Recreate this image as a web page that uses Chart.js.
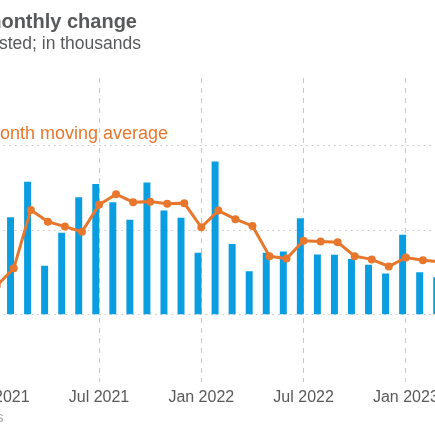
<!DOCTYPE html>
<html>
<head>
<meta charset="utf-8">
<script src="https://cdn.jsdelivr.net/npm/chart.js@4"></script>
<style>
  html, body { margin: 0; padding: 0; background: #fff; }
  #wrap { position: relative; width: 435px; height: 435px; overflow: hidden; font-family: "Liberation Sans", Arial, sans-serif; }
  #wrap canvas { position: absolute; left: -80px; top: 0; }
  .txt { position: absolute; white-space: nowrap; }
  #title { right: 298px; top: 11.4px; font-size: 20px; line-height: 20px; font-weight: bold; color: #58595b; }
  #subtitle { right: 294px; top: 35.4px; font-size: 17.5px; line-height: 17.5px; color: #58595b; }
  #legend { right: 267px; top: 123.8px; font-size: 18px; line-height: 18px; color: #e8772e; }
  #source { right: 431.5px; top: 409.7px; font-size: 14px; line-height: 14px; color: #a7a9ac; }
</style>
</head>
<body>
<div id="wrap">
  <canvas id="myChart" width="545" height="435"></canvas>
  <div class="txt" id="title">Nonfarm payrolls, monthly change</div>
  <div class="txt" id="subtitle">Seasonally adjusted; in thousands</div>
  <div class="txt" id="legend">3-month moving average</div>
  <div class="txt" id="source">Source: Bureau of Labor Statistics</div>
</div>
<script>
// month index 0 = Jan 2021
const months = ['Jan 2021', 'Feb 2021', 'Mar 2021', 'Apr 2021', 'May 2021', 'Jun 2021',
                'Jul 2021', 'Aug 2021', 'Sep 2021', 'Oct 2021', 'Nov 2021', 'Dec 2021',
                'Jan 2022', 'Feb 2022', 'Mar 2022', 'Apr 2022', 'May 2022', 'Jun 2022',
                'Jul 2022', 'Aug 2022', 'Sep 2022', 'Oct 2022', 'Nov 2022', 'Dec 2022',
                'Jan 2023', 'Feb 2023', 'Mar 2023'];
const monthlyChange = [500, 573, 784, 286, 482, 692, 770, 663, 558, 780, 613, 570,
                       363, 903, 415, 254, 363, 371, 567, 353, 351, 327, 292, 240,
                       470, 248, 218];
const movingAverage = [170, 273, 619, 549, 520, 490, 649, 712, 665, 668, 655, 659,
                       516, 615, 564, 524, 345, 331, 436, 432, 427, 345, 326, 284,
                       337, 321, 312];
const tickLabels = ['Jan 2021', 'Jul 2021', 'Jan 2022', 'Jul 2022', 'Jan 2023'];
const yTicks = [0, 500, 1000];

const ctx = document.getElementById('myChart');
const font = "'Liberation Sans', Arial, sans-serif";

new Chart(ctx, {
    type: 'bar',
    data: {
        datasets: [{
            type: 'line',
            label: '3-month moving average',
            data: months.map((m, i) => ({ x: i, y: movingAverage[i] })),
            borderColor: '#e8772e',
            backgroundColor: '#e8772e',
            borderWidth: 3,
            pointRadius: 2.5,
            pointHoverRadius: 2.5,
            tension: 0,
            order: 0
        }, {
            type: 'bar',
            label: 'Monthly change',
            // bars sit just left of the month mark
            data: months.map((m, i) => ({ x: i - 0.19, y: monthlyChange[i] })),
            backgroundColor: '#0a9de0',
            barThickness: 6.3,
            order: 1
        }]
    },
    options: {
        responsive: false,
        animation: false,
        layout: { padding: { top: 78, left: 6.5, right: 8, bottom: 0 } },
        plugins: {
            legend: { display: false },
            tooltip: { enabled: false }
        },
        scales: {
            x: {
                type: 'linear',
                min: -0.6,
                max: 27,
                offset: false,
                grid: {
                    offset: false,
                    drawTicks: false,
                    color: '#c8c8c8',
                    lineWidth: 1
                },
                border: { display: false, dash: [5, 5] },
                ticks: {
                    stepSize: 6,
                    includeBounds: false,
                    autoSkip: false,
                    maxRotation: 0,
                    padding: 6,
                    color: '#58595b',
                    font: { family: font, size: 16 },
                    callback: value => tickLabels[value / 6]
                },
                afterFit: axis => { axis.height = 53; }
            },
            y: {
                min: -400,
                max: 1400,
                grid: {
                    drawTicks: false,
                    color: '#c8c8c8',
                    lineWidth: 1
                },
                border: { display: false, dash: [1.6, 4] },
                ticks: {
                    padding: 8,
                    color: '#58595b',
                    font: { family: font, size: 16 },
                    callback: value => value.toLocaleString('en-US')
                },
                afterBuildTicks: axis => { axis.ticks = yTicks.map(v => ({ value: v })); },
                afterFit: axis => { axis.width = 60; }
            }
        }
    }
});
</script>
</body>
</html>
